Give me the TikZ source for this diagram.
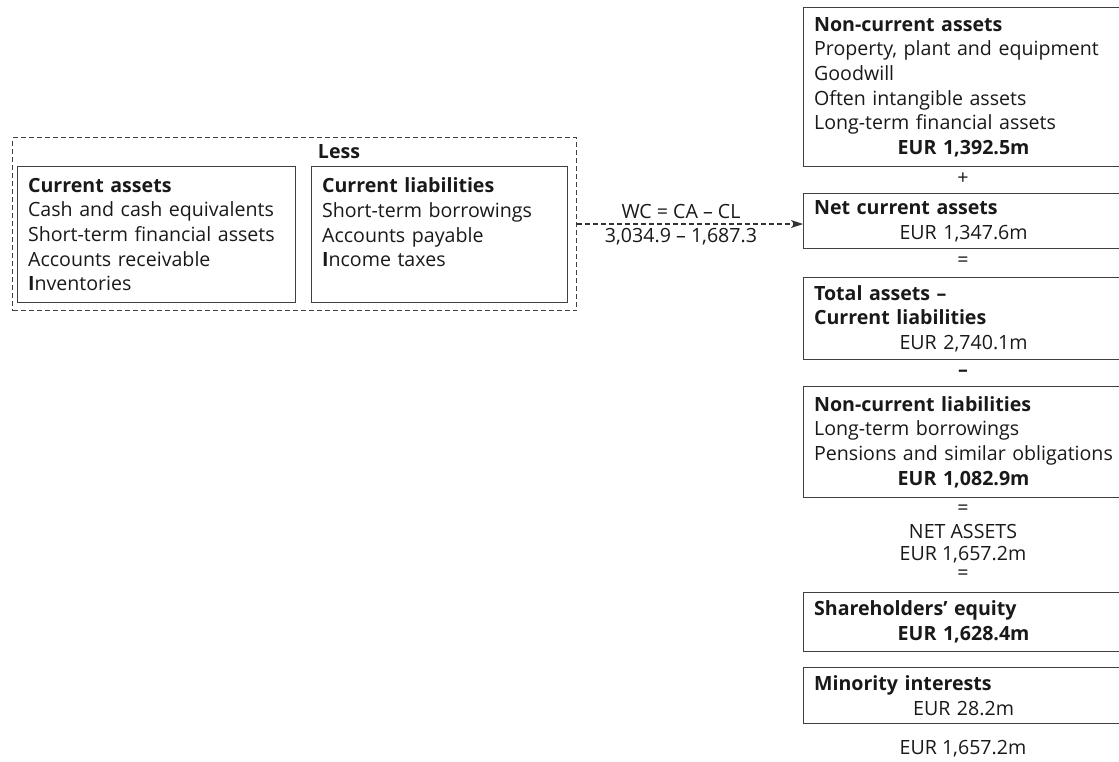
\documentclass[tikz,border=0pt]{standalone}
\usepackage{fontspec}
\setmainfont{Open Sans}
\usetikzlibrary{arrows.meta}
% a line centred across the full width of a box
\newcommand\ctrline[1]{\makebox[\linewidth]{#1}}

\begin{document}
\begin{tikzpicture}[x=1pt,y=-1pt,
  every node/.style={text=black!90},
  txt/.style={font=\fontsize{19.6}{24.6}\selectfont, inner sep=0pt},
  box/.style={txt, draw=black!75, line width=1.2pt, rectangle, anchor=north west,
    inner xsep=10.5pt, inner ysep=0pt, align=left},
  rbox/.style={box, minimum width=320pt, text width=299pt},
  grpbox/.style={draw=black!75, line width=1.1pt, dash pattern=on 5pt off 3pt,
    rectangle, anchor=north west, inner sep=0pt},
  op/.style={txt},
  link/.style={draw=black!80, line width=1.1pt, dash pattern=on 5pt off 3pt,
    -{Stealth[length=12pt,width=8pt,inset=3pt]}}
]
\useasboundingbox (0,0) rectangle (1119,762);

% working capital group
\node[grpbox, minimum width=564pt, minimum height=173pt] (grp) at (12,137) {};
\node[txt] (less) at (339,152) {\bfseries Less};
\node[box, minimum width=278pt, minimum height=136pt, text width=257pt] (ca) at (17,166)
  {\textbf{Current assets}\\Cash and cash equivalents\\Short-term financial assets\\Accounts receivable\\\textbf{I}nventories};
\node[box, minimum width=256pt, minimum height=136pt, text width=235pt] (cl) at (311,166)
  {\textbf{Current liabilities}\\Short-term borrowings\\Accounts payable\\\textbf{I}ncome taxes\\\mbox{}};

% balance sheet column
\node[rbox, minimum height=159pt] (nca) at (803,7)
  {\textbf{Non-current assets}\\Property, plant and equipment\\Goodwill\\Often intangible assets\\Long-term financial assets\\\ctrline{\bfseries EUR 1,392.5m}};
\node[op] (plus) at (963,179) {+};
\node[rbox, minimum height=55pt] (net) at (803,193)
  {\textbf{Net current assets}\\\ctrline{EUR 1,347.6m}};
\node[op] (eqa) at (963,262) {=};
\node[rbox, minimum height=82pt] (tot) at (803,277)
  {\textbf{Total assets –}\\\textbf{Current liabilities}\\\ctrline{EUR 2,740.1m}};
\node[op] (minus) at (963,373) {\bfseries –};
\node[rbox, minimum height=111pt] (ncl) at (803,386)
  {\textbf{Non-current liabilities}\\Long-term borrowings\\Pensions and similar obligations\\\ctrline{\bfseries EUR 1,082.9m}};
\node[op] (eqb) at (963,510) {=};
\node[op] (na) at (963,531) {NET ASSETS};
\node[op] (naval) at (963,555) {EUR 1,657.2m};
\node[op] (eqc) at (963,575) {=};
\node[rbox, minimum height=59pt] (sh) at (803,592)
  {\textbf{Shareholders’ equity}\\\ctrline{\bfseries EUR 1,628.4m}};
\node[rbox, minimum height=56pt] (mi) at (803,667)
  {\textbf{Minority interests}\\\ctrline{EUR 28.2m}};
\node[op] (sum) at (963,749) {EUR 1,657.2m};

% working capital feeds net current assets
\draw[link] (grp.east) -- (grp.east -| net.west)
  node[txt, pos=0.46, above=5pt] (wc) {WC = CA – CL}
  node[txt, pos=0.46, below=4pt] (wcval) {3,034.9 – 1,687.3};
\end{tikzpicture}
\end{document}
